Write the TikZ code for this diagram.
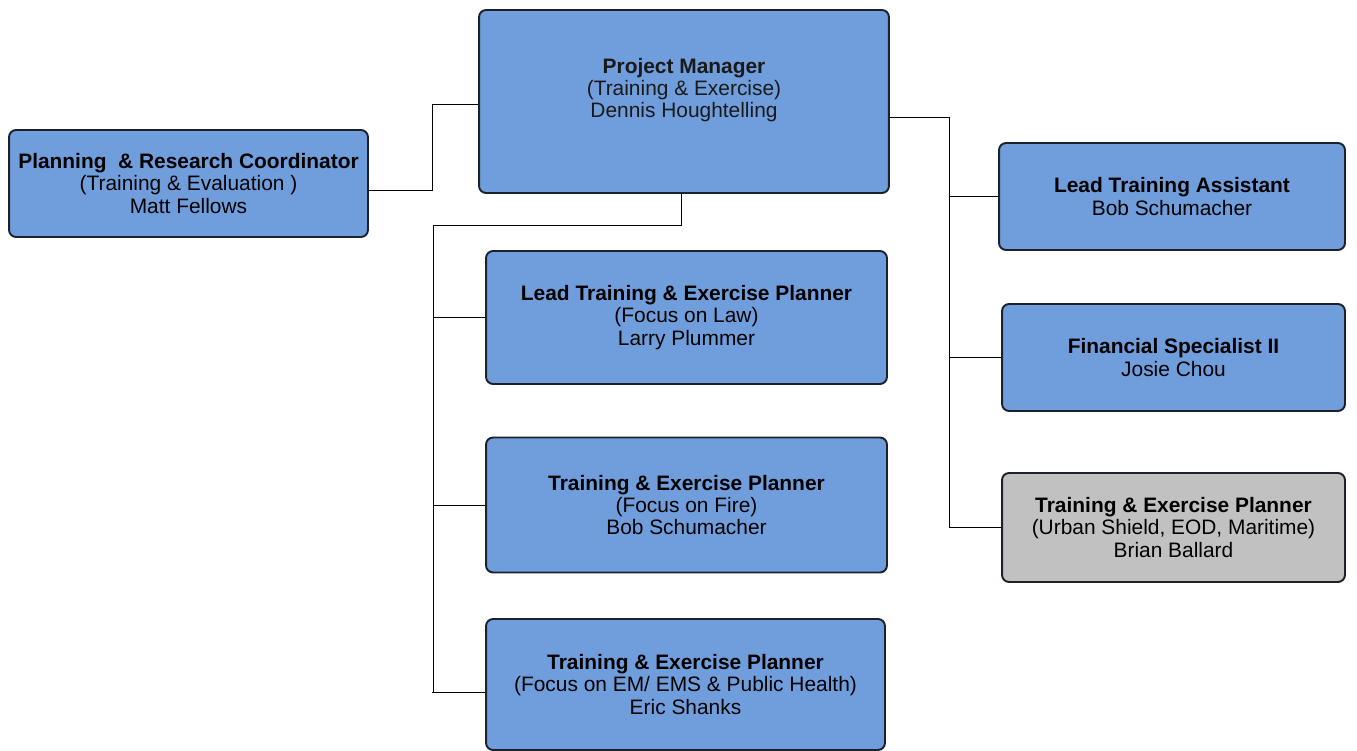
\documentclass[tikz,border=0pt]{standalone}
\usepackage{fontspec}
\setmainfont{Liberation Sans}
\usepackage{xcolor}
\usetikzlibrary{positioning}

\definecolor{roleblue}{RGB}{112,158,220}
\definecolor{rolegray}{RGB}{193,193,193}
\definecolor{roleedge}{RGB}{28,34,44}

\begin{document}
\begin{tikzpicture}[
  x=0.02cm, y=-0.02cm,
  every node/.style={font=\fontsize{11.9}{12.6}\selectfont},
  role/.style={draw=roleedge, line width=1.1pt, rounded corners=4pt, fill=roleblue, align=center, inner sep=0pt},
  vacant/.style={role, fill=rolegray},
  txt/.style={align=center, text=black!90},
  link/.style={draw=black, line width=0.55pt}
]
\useasboundingbox (0,0) rectangle (1357,751);

% top level
\node[role, minimum width=8.2cm, minimum height=3.66cm] (pm) at (684,101.5) {};
\node[txt] (pmtxt) at (684,90) {\textbf{Project Manager}\\(Training \& Exercise)\\Dennis Houghtelling};

\node[role, minimum width=7.18cm, minimum height=2.14cm] (plan) at (188.5,183.5) {\textbf{Planning\ \ \& Research Coordinator}\\(Training \& Evaluation )\\Matt Fellows};

% planners on the left branch
\node[role, minimum width=8.02cm, minimum height=2.66cm] (lead) at (686.5,317.5) {\textbf{Lead Training \& Exercise Planner}\\(Focus on Law)\\Larry Plummer};
\node[role, minimum width=8.02cm, minimum height=2.7cm] (fire) at (686.5,505) {\textbf{Training \& Exercise Planner}\\(Focus on Fire)\\Bob Schumacher};
\node[role, minimum width=7.98cm, minimum height=2.62cm] (ems) at (685.5,684.5) {\textbf{Training \& Exercise Planner}\\(Focus on EM/ EMS \& Public Health)\\Eric Shanks};

% staff on the right branch
\node[role, minimum width=6.92cm, minimum height=2.14cm] (assist) at (1172,196.5) {\textbf{Lead Training Assistant}\\Bob Schumacher};
\node[role, minimum width=6.86cm, minimum height=2.14cm] (finance) at (1173.5,357.5) {\textbf{Financial Specialist II}\\Josie Chou};
\node[vacant, minimum width=6.86cm, minimum height=2.18cm] (urban) at (1173.5,527.5) {\textbf{Training \& Exercise Planner}\\(Urban Shield, EOD, Maritime)\\Brian Ballard};

% spines
\coordinate (lspine) at (433,225);
\coordinate (rspine) at (949,117);

% connectors
\draw[link] ([yshift=-0.13cm]plan.east) -- ++(64,0) |- ([yshift=-0.05cm]pm.west);

\draw[link] ([xshift=-0.06cm]pm.south) |- (lspine) -- (lspine |- 0,692);
\draw[link] (lead.west) -- (lead.west -| lspine);
\draw[link] (fire.west) -- (fire.west -| lspine);
\draw[link] ([yshift=-0.15cm]ems.west) -- ++(-53,0);

\draw[link] (pm.east |- rspine) -- (rspine) |- (urban.west);
\draw[link] (assist.west) -- (assist.west -| rspine);
\draw[link] (finance.west) -- (finance.west -| rspine);
\end{tikzpicture}
\end{document}
